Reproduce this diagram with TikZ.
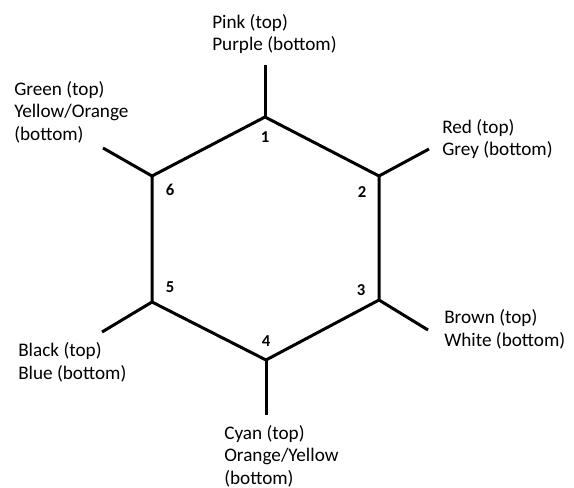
\documentclass[tikz,border=0pt]{standalone}
\usepackage{fontspec}
\setmainfont{Carlito}
\tikzset{
  bond/.style={line width=2.25pt},
  colour/.style={anchor=west, align=left, inner sep=0pt},
  posnum/.style={font=\bfseries\fontsize{12.5}{14}\selectfont, inner sep=0pt}
}
\begin{document}
\begin{tikzpicture}[x=0.75pt, y=-0.75pt, font=\fontsize{14.4}{17}\selectfont]
    %\draw[dashed, line width=0.1pt, gray] (0,0) grid[step=50] (574,488);
    \useasboundingbox (0,0) rectangle (574,488);
    \foreach \i/\x/\y in {1/265/117, 2/379/176, 3/379/300, 4/266/360, 5/152/302, 6/152/176}{
        \coordinate (v\i) at (\x,\y);}
    \foreach \i/\x/\y in {1/265/65, 2/429/149, 3/428/330, 4/266/415, 5/102/332, 6/103/148}{
        \coordinate (e\i) at (\x,\y);}
    \draw[bond] (v1)--(v2)--(v3)--(v4)--(v5)--(v6)--cycle;
    \foreach \i in {1,...,6}{
        \draw[bond] (v\i)--(e\i);}
    \foreach \i/\x/\y in {1/265/137, 2/362/192, 3/361/290, 4/266/341, 5/170/287, 6/170/190}{
        \node[posnum] (n\i) at (\x,\y) {\i};}
    \node[colour] (pink) at (212,34) {Pink (top)\\Purple (bottom)};
    \node[colour] (red) at (442,139) {Red (top)\\Grey (bottom)};
    \node[colour] (brown) at (444,329) {Brown (top)\\White (bottom)};
    \node[colour] (cyan) at (224,456) {Cyan (top)\\Orange/Yellow\\(bottom)};
    \node[colour] (black) at (18,362) {Black (top)\\Blue (bottom)};
    \node[colour] (green) at (14,112) {Green (top)\\Yellow/Orange\\(bottom)};
\end{tikzpicture}
\end{document}
